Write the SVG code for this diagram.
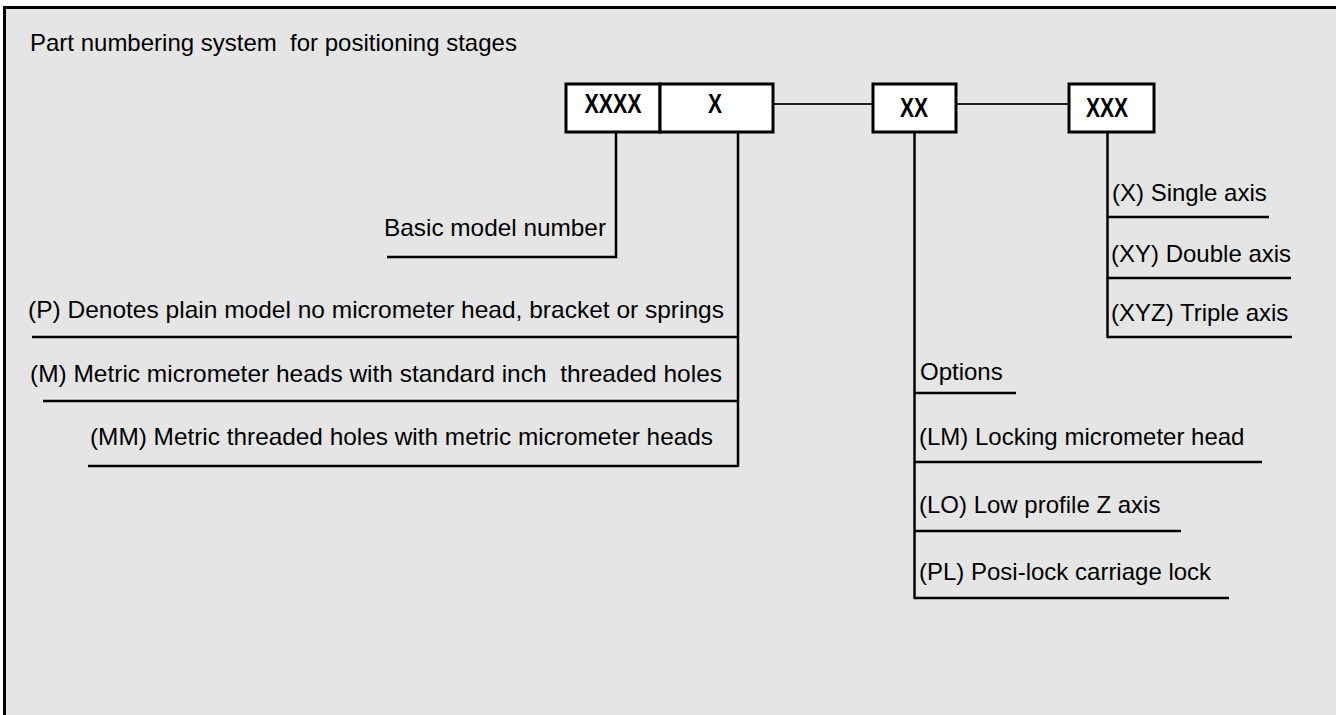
<svg xmlns="http://www.w3.org/2000/svg" width="1336" height="715" viewBox="0 0 1336 715">
<style>
.frame{fill:#e5e5e5;stroke:#000;stroke-width:3}
.box{fill:#fff;stroke:#000;stroke-width:3}
.code{font-family:"Liberation Sans",Arial,sans-serif;font-weight:bold;font-size:28px;fill:#000;text-anchor:middle}
.lbl{font-family:"Liberation Sans",Arial,sans-serif;font-size:24px;fill:#000}
.ttl{font-family:"Liberation Sans",Arial,sans-serif;font-size:24px;fill:#000}
.ln{stroke:#000;stroke-width:2.5;fill:none}
.cn{stroke:#222;stroke-width:2;fill:none}
</style>
<rect width="1336" height="715" fill="#fff"/>
<rect class="frame" x="4.5" y="7.5" width="1340" height="720"/>
<text class="ttl" x="30" y="51" xml:space="preserve">Part numbering system  for positioning stages</text>

<g id="connectors">
<line class="cn" x1="773" y1="104" x2="873" y2="104"/>
<line class="cn" x1="956" y1="104" x2="1069" y2="104"/>
<polyline class="ln" points="616,132 616,257 387,257"/>
<line class="ln" x1="738" y1="132" x2="738" y2="467"/>
<line class="ln" x1="32" y1="337" x2="738" y2="337"/>
<line class="ln" x1="43" y1="401" x2="738" y2="401"/>
<line class="ln" x1="88" y1="466" x2="738" y2="466"/>
<line class="ln" x1="914.5" y1="132" x2="914.5" y2="599"/>
<line class="ln" x1="914" y1="393" x2="1016" y2="393"/>
<line class="ln" x1="914" y1="462" x2="1262" y2="462"/>
<line class="ln" x1="914" y1="531" x2="1181" y2="531"/>
<line class="ln" x1="914" y1="598" x2="1229" y2="598"/>
<line class="ln" x1="1107.5" y1="132" x2="1107.5" y2="338"/>
<line class="ln" x1="1107" y1="217" x2="1269" y2="217"/>
<line class="ln" x1="1107" y1="278" x2="1291" y2="278"/>
<line class="ln" x1="1107" y1="337" x2="1292" y2="337"/>
</g>

<g id="box-xxxx">
<rect class="box" x="566" y="84" width="94" height="48"/>
<text class="code" x="613" y="113" textLength="57" lengthAdjust="spacingAndGlyphs">XXXX</text>
</g>
<g id="box-x">
<rect class="box" x="660" y="84" width="113" height="48"/>
<text class="code" x="715" y="113" textLength="14" lengthAdjust="spacingAndGlyphs">X</text>
</g>
<g id="box-xx">
<rect class="box" x="873" y="84" width="83" height="48"/>
<text class="code" x="914" y="117" textLength="28" lengthAdjust="spacingAndGlyphs">XX</text>
</g>
<g id="box-xxx">
<rect class="box" x="1069" y="84" width="85" height="48"/>
<text class="code" x="1107" y="117" textLength="42" lengthAdjust="spacingAndGlyphs">XXX</text>
</g>

<g id="label-basic"><text class="lbl" x="384" y="236" textLength="222" lengthAdjust="spacingAndGlyphs">Basic model number</text></g>
<g id="label-p"><text class="lbl" x="28" y="318" textLength="696" lengthAdjust="spacingAndGlyphs">(P) Denotes plain model no micrometer head, bracket or springs</text></g>
<g id="label-m"><text class="lbl" x="30" y="382" textLength="692" lengthAdjust="spacingAndGlyphs" xml:space="preserve">(M) Metric micrometer heads with standard inch  threaded holes</text></g>
<g id="label-mm"><text class="lbl" x="90" y="445" textLength="623" lengthAdjust="spacingAndGlyphs">(MM) Metric threaded holes with metric micrometer heads</text></g>

<g id="label-options"><text class="lbl" x="920" y="380">Options</text></g>
<g id="label-lm"><text class="lbl" x="919" y="445">(LM) Locking micrometer head</text></g>
<g id="label-lo"><text class="lbl" x="919" y="513">(LO) Low profile Z axis</text></g>
<g id="label-pl"><text class="lbl" x="919" y="580">(PL) Posi-lock carriage lock</text></g>

<g id="label-x"><text class="lbl" x="1112" y="201">(X) Single axis</text></g>
<g id="label-xy"><text class="lbl" x="1111" y="262">(XY) Double axis</text></g>
<g id="label-xyz"><text class="lbl" x="1111" y="321">(XYZ) Triple axis</text></g>
</svg>
